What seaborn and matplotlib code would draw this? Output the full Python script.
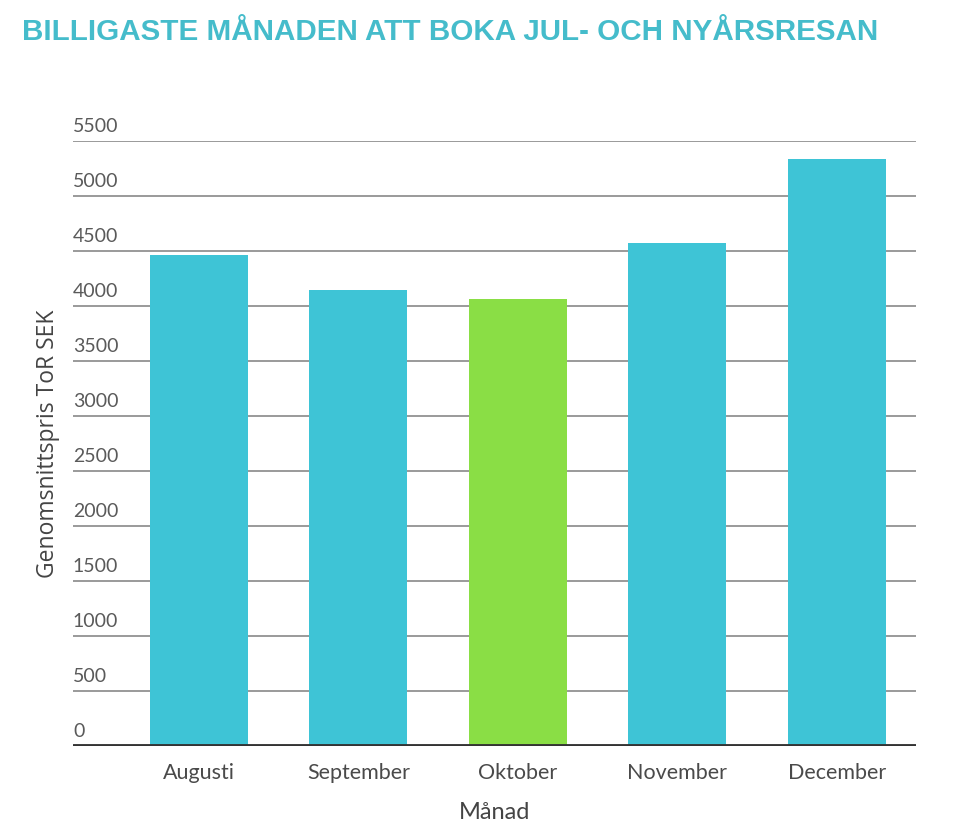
import pandas as pd
import matplotlib.pyplot as plt
import seaborn as sns

# data
months = ["Augusti", "September", "Oktober", "November", "December"]
prices = [4460, 4150, 4065, 4575, 5340]
bar_colors = ["#3ec4d6", "#3ec4d6", "#8ade45", "#3ec4d6", "#3ec4d6"]
yticks = [0, 500, 1000, 1500, 2000, 2500, 3000, 3500, 4000, 4500, 5000, 5500]

df = pd.DataFrame({"Månad": months, "Pris": prices})

sns.set_style("white")
plt.rcParams["font.family"] = ["Lato", "DejaVu Sans"]

fig = plt.figure(figsize=(9.6, 8.4), dpi=100)
ax = fig.add_axes([0.076, 0.112, 0.878, 0.72])

sns.barplot(data=df, x="Månad", y="Pris", hue="Månad", palette=bar_colors,
            legend=False, width=0.615, saturation=1, linewidth=0,
            ax=ax, zorder=3)

ax.set_ylim(0, 5500)
ax.set_xlim(-0.79, 4.495)

# grid lines drawn as horizontal lines
for t in yticks[1:]:
    ax.axhline(t, color="#9a9a9a", lw=1.4, zorder=1)
ax.axhline(0, color="#333333", lw=3.5, zorder=4)

ax.set_yticks(yticks)
ax.set_yticklabels([])
for t in yticks:
    ax.text(-0.79, t + 55, str(t), ha="left", va="bottom",
            fontsize=14, color="#5a5a5a")

ax.tick_params(axis="x", length=0, pad=12, labelsize=15.5, labelcolor="#4a4a4a")
ax.tick_params(axis="y", length=0)
sns.despine(ax=ax, left=True, bottom=True, top=True, right=True)

ax.set_xlabel("Månad", fontsize=17, color="#444444", labelpad=14)
ax.set_ylabel("Genomsnittspris ToR SEK", fontsize=16.5, color="#444444",
              family=["Open Sans", "DejaVu Sans"], labelpad=6)

fig.text(0.023, 0.962, "BILLIGASTE MÅNADEN ATT BOKA JUL- OCH NYÅRSRESAN",
         ha="left", va="center", fontsize=21.3, fontweight="bold",
         color="#45bccb", family=["Liberation Sans", "DejaVu Sans"])

fig.savefig("out.png", dpi=100)
